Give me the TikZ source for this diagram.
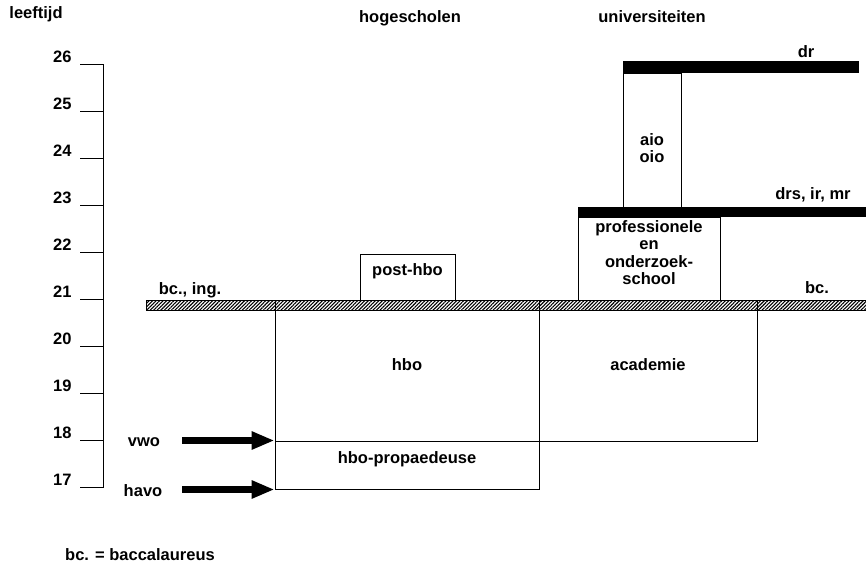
\documentclass[tikz,border=0pt]{standalone}
\usepackage{fontspec}
\setmainfont{Liberation Sans}
\usepackage{tikz}
\usetikzlibrary{calc,positioning,arrows.meta,fit,patterns.meta}
\tikzstyle{box}      = [draw, line width=1pt, inner sep=0pt, align=center]
\tikzstyle{bar}      = [fill=black]
\tikzstyle{band}     = [draw, line width=0.8pt, pattern={Lines[angle=45,distance=2.5pt,line width=1.1pt]}]
\tikzstyle{entry}    = [line width=7pt, -{Triangle[length=23pt,width=17pt]}]

\begin{document}
\begin{tikzpicture}[x=1pt,y=-1pt,font=\bfseries\fontsize{16.5}{17.5}\selectfont]
		\useasboundingbox (0,0) rectangle (866,570);

		\node (age) at (36,14) {leeftijd};
		\node[anchor=base] (hs) at (410,22) {hogescholen};
		\node[anchor=base] (uni) at (652,22) {universiteiten};

		\draw[line width=1pt] (103,64) -- (103,488);
		\foreach \a in {17,...,26}{
			\pgfmathsetmacro\ty{64+(26-\a)*47.1}
			\draw[line width=1pt] (80,\ty) -- (103,\ty);
			\node[anchor=base east] (t\a) at (75,\ty-2) {\a};
		}

		\node[box, fit={(275,300) (539,441)}] (hbo) {hbo};
		\node[box, fit={(275,441) (539,489)}] (prop) {hbo-propaedeuse};
		\node[box, fit={(539,300) (757,441)}] (acad) {academie};
		\node[box, fit={(360,254) (455,300)}] (post) {post-hbo};
		\node[box, fit={(578,217) (720,300)}] (prof) {professionele\\en\\onderzoek-\\school};
		\node[box, fit={(623,73) (681,207)}] (aio) {};
		\node[align=center] (aiotxt) at ([yshift=-8pt]aio.center) {aio\\oio};

		\draw[band] (146,300) rectangle (866,310);
		\fill[bar] (578,207) rectangle (866,217);
		\fill[bar] (623,61) rectangle (859,73);

		\node (bcing) at (190,290) {bc., ing.};
		\node (bc) at (817,288) {bc.};
		\node (drs) at (813,195) {drs, ir, mr};
		\node (dr) at (806,52) {dr};

		\node[anchor=base] (vwo) at (144,446) {vwo};
		\node[anchor=base] (havo) at (143,496) {havo};
		\coordinate (start) at (182,0);
		\draw[entry] (start |- prop.north west) -- (prop.north west);
		\draw[entry] (start |- prop.south west) -- (prop.south west);

		\node (note) at (140,555) {bc. = baccalaureus};
	\end{tikzpicture}
\end{document}
